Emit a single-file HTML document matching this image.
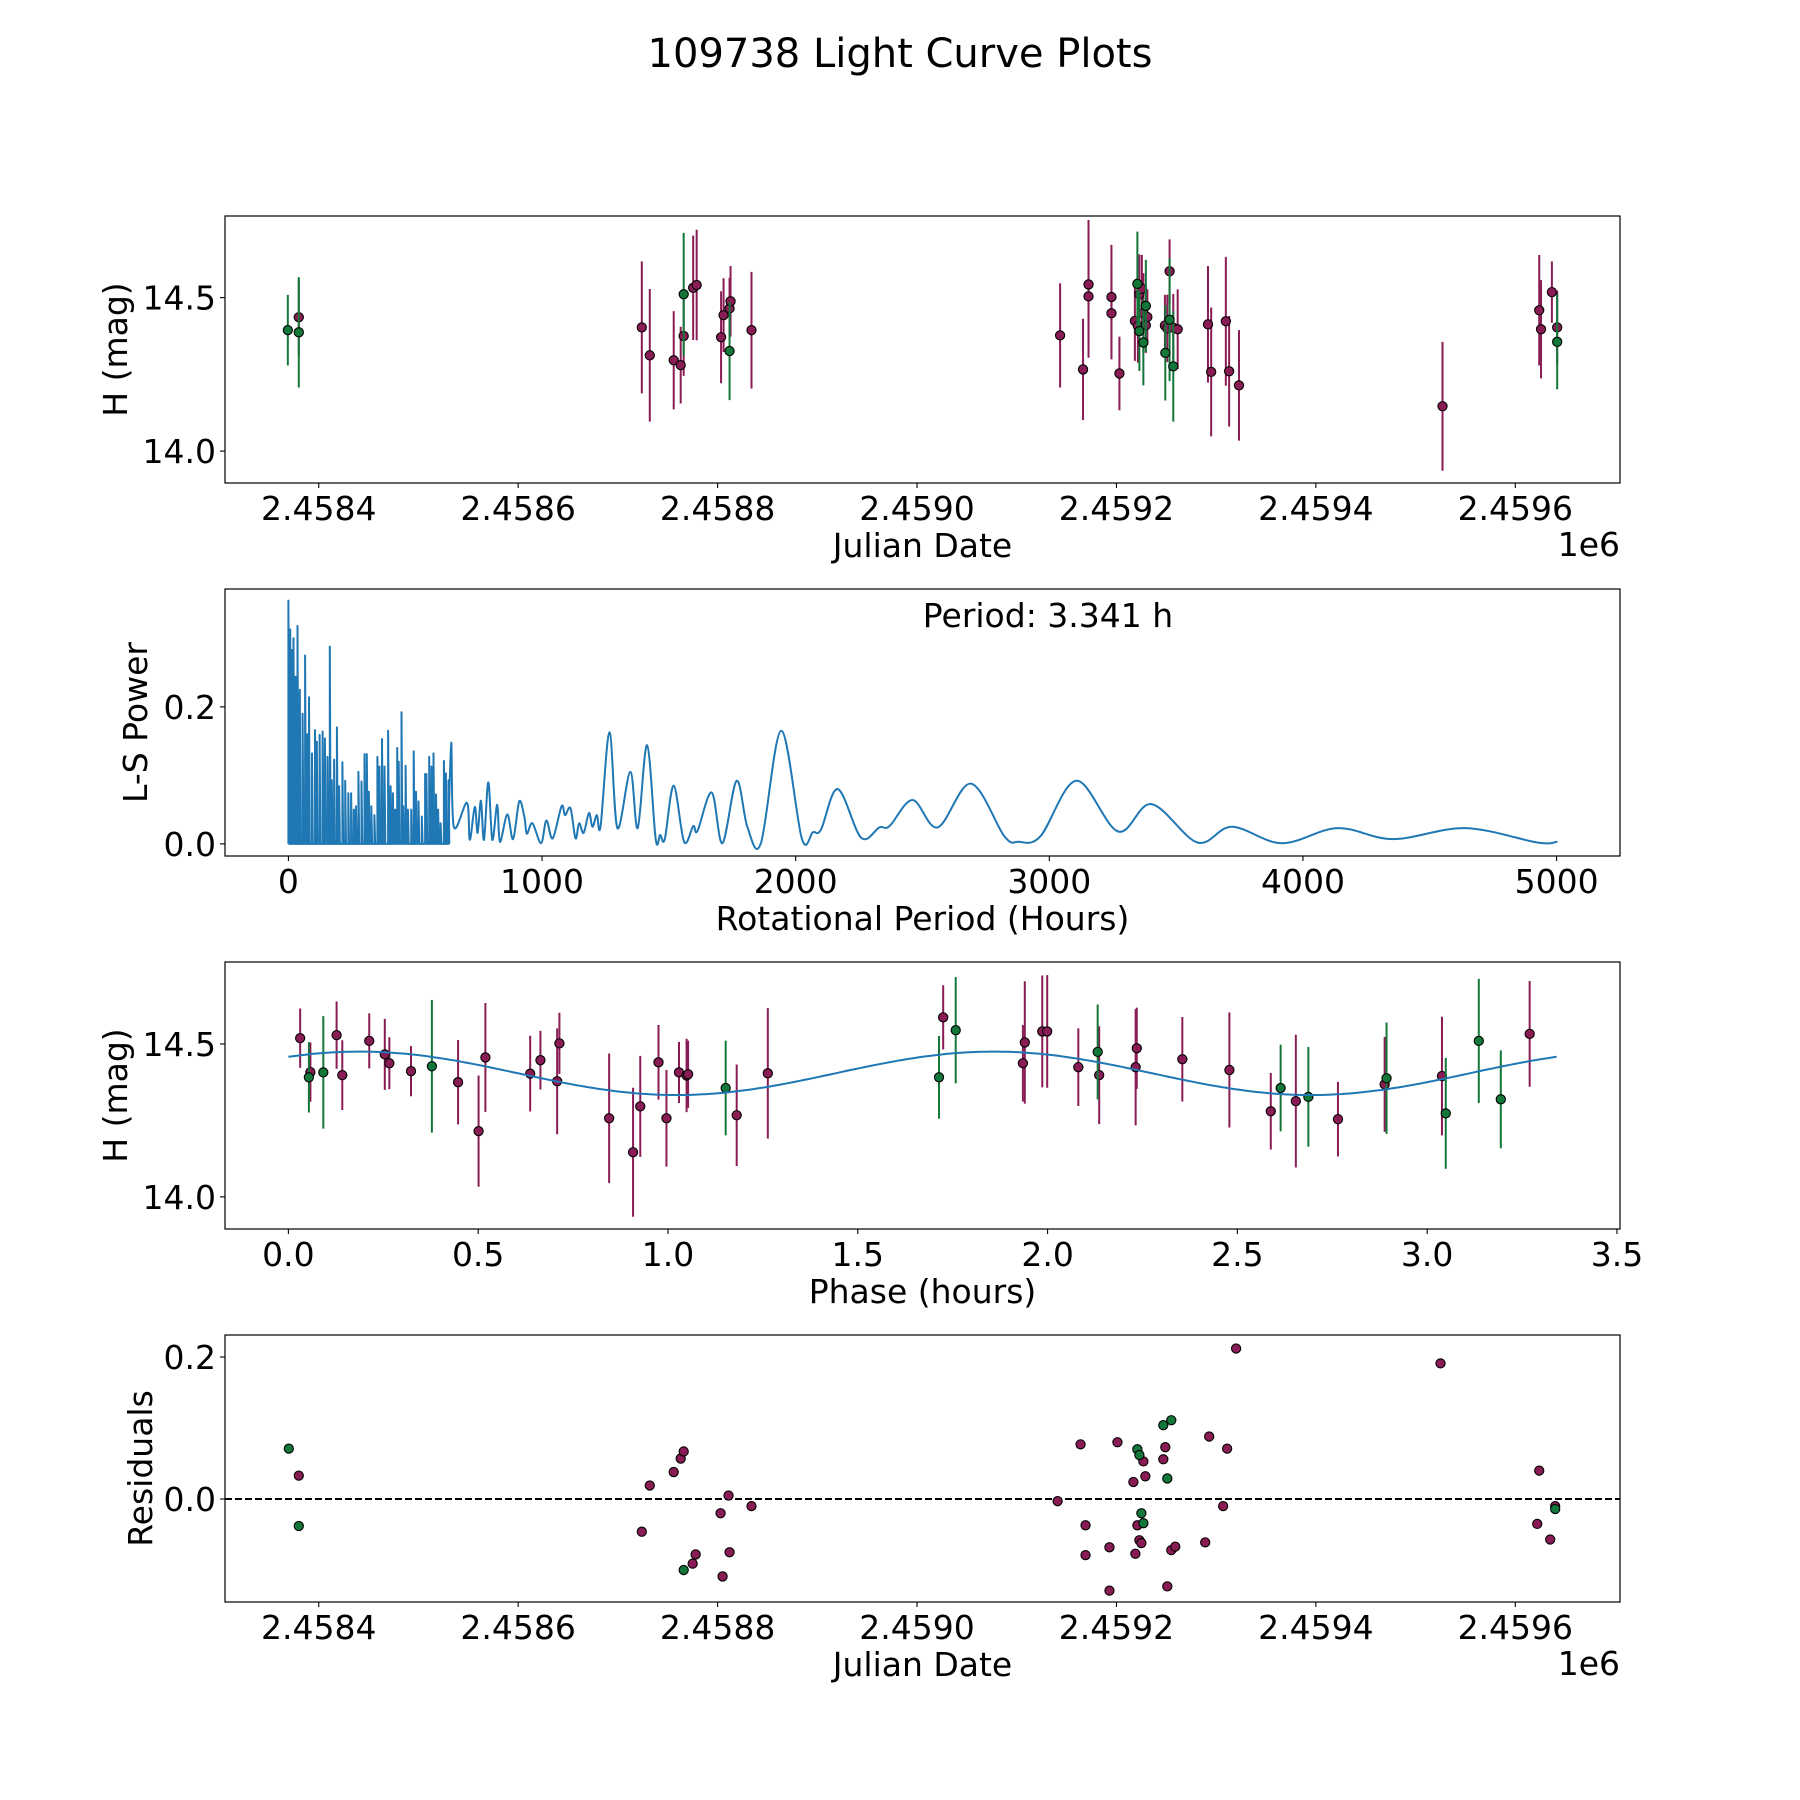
<!DOCTYPE html>
<html><head><meta charset="utf-8"><title>109738 Light Curve Plots</title>
<style>html,body{margin:0;padding:0;background:#fff}svg{display:block;font-family:"DejaVu Sans","Liberation Sans",sans-serif}</style>
</head><body>
<svg id="fig" xmlns="http://www.w3.org/2000/svg" width="1800" height="1800" viewBox="0 0 1800 1800">
<rect width="1800" height="1800" fill="#fff"/>
<text x="900" y="67" font-size="40" text-anchor="middle" fill="#000">109738 Light Curve Plots</text>
</svg>
<script>
// ---- Panel 1 data: observations (day = JD - 2458000) ----
const obsDay   = [380,724,732,756,763,766,775.5,779,803.5,806,812,813,834,1143.5,1166.5,1172,1172,1195,1195,1203,1218.5,1221.5,1223,1225.5,1227,1229.5,1231,1248.6,1251,1253.3,1257,1261.4,1291.8,1295,1309.7,1313,1322.9,1527,1624,1625.8,1636.7,1642];
const obsMag   = [14.436,14.403,14.312,14.296,14.28,14.375,14.532,14.541,14.371,14.443,14.465,14.488,14.394,14.377,14.266,14.543,14.504,14.502,14.449,14.253,14.424,14.408,14.511,14.529,14.45,14.41,14.437,14.409,14.4,14.586,14.402,14.397,14.413,14.258,14.423,14.26,14.214,14.146,14.459,14.397,14.518,14.403];
const obsErr   = [0.124,0.215,0.216,0.16,0.125,0.13,0.17,0.18,0.15,0.12,0.10,0.115,0.19,0.17,0.165,0.21,0.2,0.17,0.15,0.12,0.13,0.12,0.13,0.11,0.13,0.09,0.09,0.1,0.11,0.104,0.11,0.13,0.19,0.21,0.21,0.18,0.18,0.21,0.18,0.16,0.1,0.12];
const obsDayG  = [369,380,766,812,1221,1223,1227,1229.5,1249,1253.3,1257,1642];
const obsMagG  = [14.394,14.387,14.511,14.326,14.545,14.391,14.354,14.473,14.32,14.428,14.276,14.356];
const obsErrG  = [0.115,0.18,0.2,0.16,0.17,0.13,0.14,0.15,0.155,0.2,0.18,0.155];
const jdTicks  = [400,600,800,1000,1200,1400,1600];
const jdTickLabels = ["2.4584","2.4586","2.4588","2.4590","2.4592","2.4594","2.4596"];
const magTicks = [14.0,14.5];
const magTickLabels = ["14.0","14.5"];

// ---- Panel 2 data: periodogram ----
const spikePeriod = [0,7,14,20,28,36,45,56,66,74,81,93,105,112,123,135,144,154,163,171,180,191,200,213,224,236,247,258,266,276,288,300,309,317,327,339,351,359,369,379,393,403,412,421,429,435,446,453,462,471,484,494,503,513,526,539,544,555,564,572,582,590,600,613,621,631];
const spikePower  = [0.355,0.313,0.283,0.3,0.244,0.318,0.225,0.19,0.275,0.16,0.214,0.132,0.166,0.149,0.159,0.164,0.154,0.127,0.288,0.093,0.123,0.17,0.084,0.119,0.092,0.074,0.074,0.05,0.055,0.105,0.091,0.131,0.131,0.076,0.055,0.042,0.127,0.113,0.153,0.113,0.165,0.084,0.074,0.05,0.14,0.12,0.192,0.055,0.114,0.05,0.05,0.135,0.076,0.062,0.04,0.102,0.102,0.127,0.113,0.132,0.072,0.05,0.03,0.121,0.103,0.093];
const smoothPeriod = [631,642,652,704,715,735,746,759,771,788,804,823,834,863,886,910,930,940,962,996,1017,1042,1077,1091,1112,1132,1146,1164,1185,1199,1216,1231,1266,1297,1348,1377,1414,1448,1466,1484,1519,1560,1596,1613,1669,1711,1767,1810,1863,1943,2024,2068,2100,2166,2258,2330,2370,2461,2560,2691,2823,2878,2965,3107,3271,3403,3584,3720,3917,4136,4355,4640,4924,5003];
const smoothPower  = [0.02,0.148,0.025,0.06,0.006,0.054,0.016,0.063,0.006,0.09,0.006,0.057,0.003,0.043,0.007,0.062,0.04,0.015,0.03,0.001,0.034,0.008,0.055,0.042,0.052,0.008,0.03,0.016,0.045,0.025,0.042,0.026,0.163,0.023,0.105,0.023,0.144,0.007,0.013,0.007,0.085,0.003,0.026,0.019,0.075,0.001,0.092,0.024,0.001,0.165,0.008,0.017,0.021,0.08,0.009,0.024,0.026,0.064,0.024,0.088,0.011,0.003,0.011,0.092,0.018,0.058,0.002,0.025,0.001,0.023,0.007,0.023,0.002,0.003];
const perTicks = [0,1000,2000,3000,4000,5000];
const perTickLabels = ["0","1000","2000","3000","4000","5000"];
const powTicks = [0.0,0.2];
const powTickLabels = ["0.0","0.2"];
const bestPeriod = 3.341;

// ---- Panel 3 data: phased ----
const phM    = [0.031,0.058,0.127,0.142,0.213,0.254,0.266,0.323,0.447,0.501,0.519,0.637,0.664,0.708,0.714,0.845,0.908,0.927,0.975,0.996,1.029,1.049,1.053,1.181,1.263,1.725,1.935,1.94,1.986,1.999,2.081,2.136,2.232,2.235,2.355,2.479,2.588,2.654,2.765,2.888,3.039,3.27];
const phMagM = [14.519,14.408,14.529,14.398,14.51,14.466,14.437,14.411,14.375,14.215,14.456,14.403,14.447,14.378,14.502,14.257,14.146,14.296,14.44,14.257,14.407,14.397,14.401,14.267,14.404,14.587,14.437,14.505,14.541,14.541,14.424,14.398,14.424,14.486,14.45,14.415,14.28,14.313,14.254,14.368,14.395,14.533];
const phErrM = [0.097,0.097,0.11,0.114,0.09,0.116,0.085,0.082,0.138,0.182,0.178,0.124,0.096,0.173,0.1,0.212,0.211,0.165,0.122,0.158,0.1,0.12,0.11,0.166,0.213,0.105,0.125,0.2,0.183,0.184,0.127,0.16,0.19,0.133,0.138,0.188,0.125,0.217,0.122,0.155,0.194,0.173];
const phG    = [0.054,0.092,0.378,1.152,1.714,1.758,2.132,2.614,2.687,2.893,3.049,3.136,3.194];
const phMagG = [14.391,14.407,14.427,14.356,14.391,14.545,14.474,14.356,14.327,14.388,14.273,14.51,14.319];
const phErrG = [0.115,0.184,0.217,0.155,0.135,0.174,0.155,0.142,0.163,0.182,0.181,0.203,0.16];
const fitMean = 14.404, fitAmp = 0.071, fitPhase = 0.864;
const phTicks = [0,0.5,1,1.5,2,2.5,3,3.5];
const phTickLabels = ["0.0","0.5","1.0","1.5","2.0","2.5","3.0","3.5"];

// ---- Panel 4 data: residuals ----
const resDayM = [380,724,732,756,763,766,778,775,803,811,812,805,834,1141,1164,1169,1169,1201,1193,1193,1227,1217,1229,1249,1247,1221,1223,1225,1219,1255,1259,1251,1289,1293,1307,1311,1320,1525,1624,1622,1635,1640];
const resValM = [0.033,-0.046,0.019,0.038,0.057,0.067,-0.078,-0.091,-0.02,0.005,-0.075,-0.109,-0.01,-0.003,0.077,-0.037,-0.079,0.08,-0.068,-0.129,0.053,0.024,0.032,0.073,0.056,-0.037,-0.058,-0.062,-0.077,-0.072,-0.067,-0.123,-0.061,0.088,-0.01,0.071,0.212,0.191,0.04,-0.035,-0.057,-0.01];
const resDayG = [370,380,766,1221,1223,1251,1247,1255,1225,1227,1640];
const resValG = [0.071,-0.038,-0.1,0.07,0.062,0.029,0.104,0.111,-0.02,-0.034,-0.014];
const resTicks = [0.0,0.2];
const resTickLabels = ["0.0","0.2"];

const NS = "http://www.w3.org/2000/svg";
const svg = document.getElementById('fig');
const MAG = "#8a1c55", GRN = "#13773a", BLUE = "#1f77b4";
const L = 225, R = 1620, FS = 33;
function el(tag, attrs, parent){const e=document.createElementNS(NS,tag);for(const k in attrs)e.setAttribute(k,attrs[k]);(parent||svg).appendChild(e);return e;}
function lin(d0,d1,r0,r1){return v=>r0+(v-d0)*(r1-r0)/(d1-d0);}

function axesFrame(name, top, bot, xs, ys, xt, xtl, yt, ytl, xlabel, ylabel, ylabX){
  const g = el('g',{});  
  xt.forEach((t,i)=>{const x=xs(t);
    const tk=el('line',{x1:x,x2:x,y1:bot,y2:bot+5,stroke:'#000','stroke-width':1.1},g);
     
    const tl=el('text',{x:x,y:bot+37,'font-size':FS,'text-anchor':'middle'},g); tl.textContent=xtl[i];
     });
  yt.forEach((t,i)=>{const y=ys(t);
    const tk=el('line',{x1:L-5,x2:L,y1:y,y2:y,stroke:'#000','stroke-width':1.1},g);
     
    const tl=el('text',{x:L-9,y:y+12,'font-size':FS,'text-anchor':'end'},g); tl.textContent=ytl[i];
     });
  const xl=el('text',{x:(L+R)/2,y:bot+74,'font-size':FS,'text-anchor':'middle'},g); xl.textContent=xlabel;
   
  const cy=(top+bot)/2;
  const yl=el('text',{x:ylabX,y:cy,'font-size':FS,'text-anchor':'middle',transform:`rotate(-90 ${ylabX} ${cy})`},g); yl.textContent=ylabel;
   
  return g;
}
function frame(top,bot){const f=el('rect',{x:L,y:top,width:R-L,height:bot-top,fill:'none',stroke:'#000','stroke-width':1.2});
   }
function errPoints(g,xa,ya,ea,color,xs,ys,name){
  xa.forEach((x0,i)=>{const x=xs(x0);
    if(ea){const b=el('line',{x1:x,x2:x,y1:ys(ya[i]+ea[i]),y2:ys(ya[i]-ea[i]),stroke:color,'stroke-width':2},g);
       }
  });
  xa.forEach((x0,i)=>{const c=el('circle',{cx:xs(x0),cy:ys(ya[i]),r:4.6,fill:color,stroke:'#000','stroke-width':1.1},g);
     });
}
function clip(id,top,bot){const cp=el('clipPath',{id:id});el('rect',{x:L,y:top,width:R-L,height:bot-top},cp);}

// Panel 1
(function(){
  const top=216,bot=483;
  const xs=lin(306,1705,L,R), ys=lin(13.896,14.766,bot,top);
  axesFrame('light-curve-axes',top,bot,xs,ys,jdTicks,jdTickLabels,magTicks,magTickLabels,'Julian Date','H (mag)',127);
  const o=el('text',{x:R,y:bot+73,'font-size':FS,'text-anchor':'end'}); o.textContent='1e6';
   
  const g=el('g',{});  
  errPoints(g,obsDay,obsMag,obsErr,MAG,xs,ys,'obs-magenta');
  errPoints(g,obsDayG,obsMagG,obsErrG,GRN,xs,ys,'obs-green');
  frame(top,bot);
})();

// Panel 2
(function(){
  const top=589,bot=856;
  const xs=lin(-250,5250,L,R), ys=lin(-0.0177,0.372,bot,top);
  axesFrame('periodogram-axes',top,bot,xs,ys,perTicks,perTickLabels,powTicks,powTickLabels,'Rotational Period (Hours)','L-S Power',147);
  clip('c2',top,bot);
  let d='';
  spikePeriod.forEach((p,i)=>{const x=xs(p);d+=(i?'L':'M')+x.toFixed(1)+','+ys(0).toFixed(1)+'L'+x.toFixed(1)+','+ys(spikePower[i]).toFixed(1)+'L'+(x+0.8).toFixed(1)+','+ys(0).toFixed(1);});
  const s=el('path',{d:d,fill:'none',stroke:BLUE,'stroke-width':2,'stroke-linejoin':'round','clip-path':'url(#c2)'});
   
  const pts=smoothPeriod.map((p,i)=>[xs(p),ys(smoothPower[i])]);
  let d2='M'+pts[0][0]+','+pts[0][1];
  for(let i=0;i<pts.length-1;i++){const p0=pts[Math.max(0,i-1)],p1=pts[i],p2=pts[i+1],p3=pts[Math.min(pts.length-1,i+2)];
    const c1=[p1[0]+(p2[0]-p0[0])/6,p1[1]+(p2[1]-p0[1])/6],c2=[p2[0]-(p3[0]-p1[0])/6,p2[1]-(p3[1]-p1[1])/6];
    d2+=`C${c1[0].toFixed(1)},${c1[1].toFixed(1)} ${c2[0].toFixed(1)},${c2[1].toFixed(1)} ${p2[0].toFixed(1)},${p2[1].toFixed(1)}`;}
  const c=el('path',{d:d2,fill:'none',stroke:BLUE,'stroke-width':2,'clip-path':'url(#c2)'});
   
  const t=el('text',{x:1048,y:627,'font-size':FS,'text-anchor':'middle'}); t.textContent='Period: '+bestPeriod.toFixed(3)+' h';
   
  frame(top,bot);
})();

// Panel 3
(function(){
  const top=962,bot=1229;
  const xs=lin(-0.167,3.508,L,R), ys=lin(13.895,14.768,bot,top);
  axesFrame('phase-axes',top,bot,xs,ys,phTicks,phTickLabels,magTicks,magTickLabels,'Phase (hours)','H (mag)',127);
  const g=el('g',{});  
  errPoints(g,phM,phMagM,phErrM,MAG,xs,ys,'phase-magenta');
  errPoints(g,phG,phMagG,phErrG,GRN,xs,ys,'phase-green');
  let d='';const N=300;
  for(let i=0;i<=N;i++){const p=bestPeriod*i/N;const m=fitMean+fitAmp*Math.sin(4*Math.PI*p/bestPeriod+fitPhase);
    d+=(i?'L':'M')+xs(p).toFixed(1)+','+ys(m).toFixed(1);}
  const f=el('path',{d:d,fill:'none',stroke:BLUE,'stroke-width':2});
   
  frame(top,bot);
})();

// Panel 4
(function(){
  const top=1335,bot=1602;
  const xs=lin(306,1705,L,R), ys=lin(-0.145,0.231,bot,top);
  axesFrame('residuals-axes',top,bot,xs,ys,jdTicks,jdTickLabels,resTicks,resTickLabels,'Julian Date','Residuals',152);
  const o=el('text',{x:R,y:bot+73,'font-size':FS,'text-anchor':'end'}); o.textContent='1e6';
   
  const z=el('line',{x1:L,x2:R,y1:ys(0),y2:ys(0),stroke:'#000','stroke-width':2,'stroke-dasharray':'7,3'});
   
  const g=el('g',{});  
  errPoints(g,resDayM,resValM,null,MAG,xs,ys,'residual-magenta');
  errPoints(g,resDayG,resValG,null,GRN,xs,ys,'residual-green');
  frame(top,bot);
})();
</script>
</body></html>
